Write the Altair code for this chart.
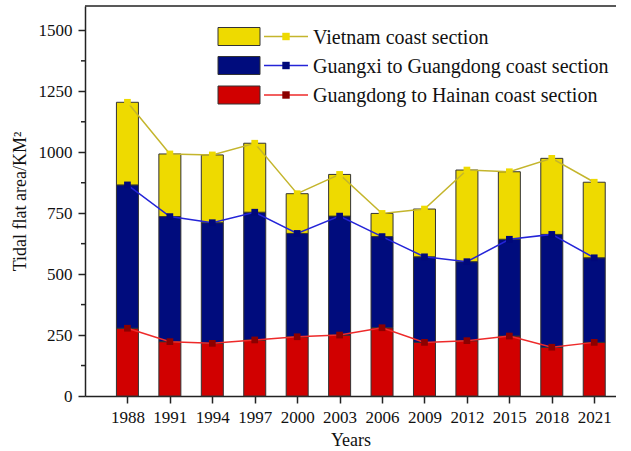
import altair as alt
import pandas as pd

# ---- data ----
years = [1988, 1991, 1994, 1997, 2000, 2003, 2006, 2009, 2012, 2015, 2018, 2021]
series_names = ["Guangdong to Hainan coast section",
                "Guangxi to Guangdong coast section",
                "Vietnam coast section"]
guangdong_hainan = [278, 223, 216, 230, 243, 250, 280, 220, 227, 246, 200, 220]
guangxi_guangdong = [588, 513, 495, 524, 424, 488, 374, 351, 324, 397, 463, 347]
vietnam = [339, 257, 278, 283, 163, 171, 95, 196, 376, 277, 312, 310]
y_ticks = [0, 250, 500, 750, 1000, 1250, 1500]
y_minor = [125, 375, 625, 875, 1125, 1375]

# ---- styles ----
bar_colors = ["#D10000", "#000C7D", "#EEDA00"]
line_colors = ["#EE2A2A", "#2424D8", "#C4B52C"]
marker_colors = ["#8B0000", "#00087A", "#EEDA00"]
FONT = "Liberation Serif"
W, H = 531, 390
PX_PER_YEAR = 14.145

rows = []
for i, y in enumerate(years):
    lo = 0
    for name, vals in zip(series_names, [guangdong_hainan, guangxi_guangdong, vietnam]):
        hi = lo + vals[i]
        rows.append({"year": y, "series": name, "lo": lo, "hi": hi})
        lo = hi
df = pd.DataFrame(rows)

xscale = alt.Scale(domain=[1985, 1985 + W / PX_PER_YEAR], nice=False, zero=False, padding=0)
yscale = alt.Scale(domain=[0, 1600], nice=False, padding=0)

xax = alt.Axis(values=years, format="d", title="Years", grid=False,
               tickSize=7, labelPadding=6, titlePadding=6)
yax = alt.Axis(values=y_ticks, format="d", title="Tidal flat area/KM²", grid=False,
               tickSize=7, labelPadding=6, titlePadding=9)

bars = alt.Chart(df).mark_bar(size=22, stroke="#333333", strokeWidth=1).encode(
    x=alt.X("year:Q", scale=xscale, axis=xax),
    y=alt.Y("lo:Q", scale=yscale, axis=yax),
    y2="hi:Q",
    color=alt.Color("series:N", scale=alt.Scale(domain=series_names, range=bar_colors), legend=None),
)

layers = [bars]
for name, lc, mc in zip(series_names, line_colors, marker_colors):
    sub = df[df.series == name]
    layers.append(alt.Chart(sub).mark_line(color=lc, strokeWidth=1.5).encode(
        x=alt.X("year:Q", scale=xscale), y=alt.Y("hi:Q", scale=yscale)))
    layers.append(alt.Chart(sub).mark_point(shape="square", filled=True, size=45,
                                            color=mc, opacity=1).encode(
        x=alt.X("year:Q", scale=xscale), y=alt.Y("hi:Q", scale=yscale)))

# minor y ticks
minor = alt.Chart(pd.DataFrame({"v": y_minor})).mark_rule(color="#222222", strokeWidth=1.5).encode(
    x=alt.value(-4), x2=alt.value(0), y=alt.Y("v:Q", scale=yscale))
layers.append(minor)

# top frame line
top = alt.Chart(pd.DataFrame({"a": [0]})).mark_rule(color="#222222", strokeWidth=1.5).encode(
    x=alt.value(0), x2=alt.value(W), y=alt.value(0))
layers.append(top)

# manual legend (top-down order: Vietnam, Guangxi, Guangdong)
legend_order = [2, 1, 0]
row_y = [36.5, 65.5, 95]
for ry, idx in zip(row_y, legend_order):
    name = series_names[idx]
    ld = pd.DataFrame({"t": [name]})
    cx = 218 - 85
    cy = ry - 6
    layers.append(alt.Chart(ld).mark_rect(fill=bar_colors[idx], stroke="#333333", strokeWidth=1).encode(
        x=alt.value(cx), x2=alt.value(cx + 42), y=alt.value(cy - 9), y2=alt.value(cy + 9)))
    layers.append(alt.Chart(ld).mark_rule(color=line_colors[idx], strokeWidth=1.5).encode(
        x=alt.value(cx + 46), x2=alt.value(cx + 90), y=alt.value(cy)))
    layers.append(alt.Chart(ld).mark_point(shape="square", filled=True, size=55, color=marker_colors[idx], opacity=1).encode(
        x=alt.value(cx + 68), y=alt.value(cy)))
    layers.append(alt.Chart(ld).mark_text(align="left", baseline="middle", font=FONT, fontSize=20,
                                          color="#111111").encode(
        x=alt.value(cx + 95), y=alt.value(cy + 1), text="t:N"))

chart = alt.layer(*layers).properties(
    width=W, height=H,
    background="white",
    autosize=alt.AutoSizeParams(type="none"),
    padding={"left": 85, "top": 6, "right": 0, "bottom": 54},
).configure_view(stroke=None).configure_axis(
    labelFont=FONT, titleFont=FONT, labelFontSize=17, titleFontSize=18,
    titleFontWeight="normal", labelColor="#111111", titleColor="#111111",
    domainColor="#222222", domainWidth=1.5, tickColor="#222222", tickWidth=1.5,
)

chart.save("out.html", embed_options={"renderer": "svg", "actions": False})
